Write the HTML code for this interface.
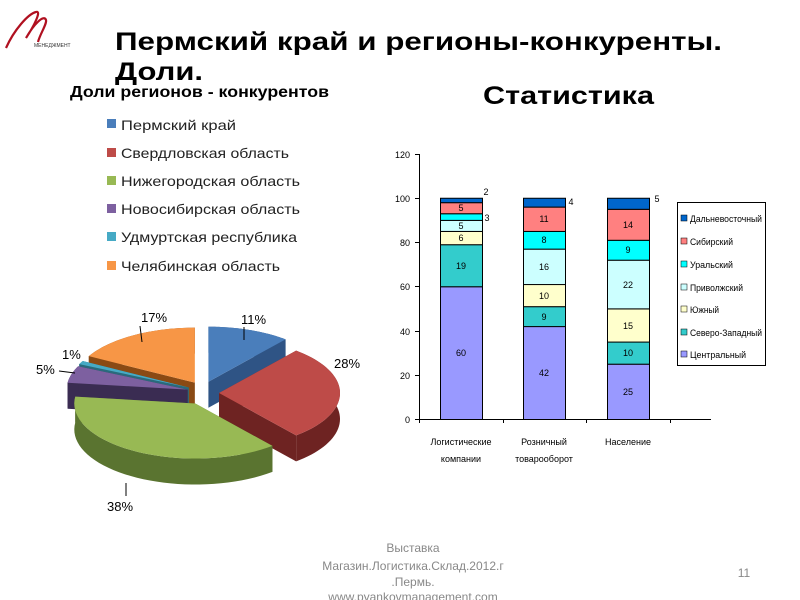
<!DOCTYPE html>
<html><head><meta charset="utf-8"><style>
body{margin:0;width:800px;height:600px;background:#fff;overflow:hidden;position:relative;font-family:"Liberation Sans","DejaVu Sans",sans-serif}
</style></head><body>
<svg width="800" height="600" viewBox="0 0 800 600" style="position:absolute;left:0;top:0" font-family="Liberation Sans, DejaVu Sans, sans-serif">
<!-- logo -->
<path d="M6,48 C14,30 28,14 36,12 C42,10 34,26 26,38 C34,24 44,14 46,20 C47,24 40,34 38,42" fill="none" stroke="#b01020" stroke-width="2.2"/>
<text x="34" y="47" font-size="5" fill="#333">МЕНЕДЖМЕНТ</text>
<text x="115" y="50" font-size="25" font-weight="bold" fill="#000" textLength="607" lengthAdjust="spacingAndGlyphs">Пермский край и регионы-конкуренты.</text>
<text x="115" y="80" font-size="25" font-weight="bold" fill="#000" textLength="88" lengthAdjust="spacingAndGlyphs">Доли.</text>
<text x="70" y="97" font-size="15.5" font-weight="bold" fill="#000" textLength="259" lengthAdjust="spacingAndGlyphs">Доли регионов - конкурентов</text>
<text x="483" y="104" font-size="25" font-weight="bold" fill="#000" textLength="171" lengthAdjust="spacingAndGlyphs">Статистика</text>
<g font-size="14" fill="#222">
<rect x="107" y="119" width="9" height="9" fill="#4a7ebb"/><text x="121" y="130" textLength="115" lengthAdjust="spacingAndGlyphs">Пермский край</text>
<rect x="107" y="148" width="9" height="9" fill="#be4b48"/><text x="121" y="158" textLength="168" lengthAdjust="spacingAndGlyphs">Свердловская область</text>
<rect x="107" y="176" width="9" height="9" fill="#98b954"/><text x="121" y="186" textLength="179" lengthAdjust="spacingAndGlyphs">Нижегородская область</text>
<rect x="107" y="204" width="9" height="9" fill="#7d60a0"/><text x="121" y="214" textLength="179" lengthAdjust="spacingAndGlyphs">Новосибирская область</text>
<rect x="107" y="232" width="9" height="9" fill="#46aac5"/><text x="121" y="242" textLength="176" lengthAdjust="spacingAndGlyphs">Удмуртская республика</text>
<rect x="107" y="261" width="9" height="9" fill="#f79646"/><text x="121" y="271" textLength="159" lengthAdjust="spacingAndGlyphs">Челябинская область</text>
</g>
<g id="pie"></g>
<g font-size="13" fill="#000">
<text x="241" y="324">11%</text><text x="334" y="368">28%</text><text x="107" y="511">38%</text>
<text x="36" y="374">5%</text><text x="62" y="359">1%</text><text x="141" y="322">17%</text>
</g>
<g stroke="#000" stroke-width="1"><line x1="59" y1="371" x2="75" y2="373"/><line x1="126" y1="483" x2="126" y2="496"/><line x1="142" y1="342" x2="140" y2="326"/><line x1="244" y1="340" x2="244" y2="327"/></g>
<!-- bar chart -->
<g id="bars"></g>
<g stroke="#000" stroke-width="1" fill="none">
<line x1="419.5" y1="154" x2="419.5" y2="419"/>
<line x1="419" y1="419.5" x2="711" y2="419.5"/>
<line x1="415" y1="154.5" x2="419" y2="154.5"/><line x1="415" y1="198.5" x2="419" y2="198.5"/><line x1="415" y1="242.5" x2="419" y2="242.5"/><line x1="415" y1="286.5" x2="419" y2="286.5"/><line x1="415" y1="331.5" x2="419" y2="331.5"/><line x1="415" y1="375.5" x2="419" y2="375.5"/><line x1="415" y1="419.5" x2="419" y2="419.5"/>
<line x1="503.5" y1="419" x2="503.5" y2="423"/><line x1="586.5" y1="419" x2="586.5" y2="423"/><line x1="670.5" y1="419" x2="670.5" y2="423"/><line x1="419.5" y1="419" x2="419.5" y2="423"/>
<rect x="677.5" y="202.5" width="88" height="163"/>
</g>
<g font-size="9" fill="#000" text-anchor="end">
<text x="410" y="158">120</text><text x="410" y="202">100</text><text x="410" y="246">80</text><text x="410" y="290">60</text><text x="410" y="335">40</text><text x="410" y="379">20</text><text x="410" y="423">0</text>
</g>
<g font-size="9" fill="#000" text-anchor="middle">
<text x="461" y="356">60</text><text x="461" y="269">19</text><text x="461" y="241">6</text><text x="461" y="229">5</text><text x="461" y="211">5</text>
<text x="544" y="376">42</text><text x="544" y="320">9</text><text x="544" y="299">10</text><text x="544" y="270">16</text><text x="544" y="243">8</text><text x="544" y="222">11</text>
<text x="628" y="395">25</text><text x="628" y="356">10</text><text x="628" y="329">15</text><text x="628" y="288">22</text><text x="628" y="253">9</text><text x="628" y="228">14</text>
<text x="486" y="195">2</text><text x="487" y="221">3</text><text x="571" y="205">4</text><text x="657" y="202">5</text>
<text x="461" y="445">Логистические</text><text x="461" y="462">компании</text>
<text x="544" y="445">Розничный</text><text x="544" y="462">товарооборот</text>
<text x="628" y="445">Население</text>
</g>
<g font-size="9" fill="#000">
<rect x="681" y="215" width="6" height="6" fill="#0066cc" stroke="#000" stroke-width=".5"/><text x="690" y="222" textLength="72" lengthAdjust="spacingAndGlyphs">Дальневосточный</text>
<rect x="681" y="238" width="6" height="6" fill="#ff8080" stroke="#000" stroke-width=".5"/><text x="690" y="245" textLength="43" lengthAdjust="spacingAndGlyphs">Сибирский</text>
<rect x="681" y="261" width="6" height="6" fill="#00ffff" stroke="#000" stroke-width=".5"/><text x="690" y="268" textLength="43" lengthAdjust="spacingAndGlyphs">Уральский</text>
<rect x="681" y="284" width="6" height="6" fill="#ccffff" stroke="#000" stroke-width=".5"/><text x="690" y="291" textLength="53" lengthAdjust="spacingAndGlyphs">Приволжский</text>
<rect x="681" y="306" width="6" height="6" fill="#ffffcc" stroke="#000" stroke-width=".5"/><text x="690" y="313" textLength="29" lengthAdjust="spacingAndGlyphs">Южный</text>
<rect x="681" y="329" width="6" height="6" fill="#33cccc" stroke="#000" stroke-width=".5"/><text x="690" y="336" textLength="72" lengthAdjust="spacingAndGlyphs">Северо-Западный</text>
<rect x="681" y="351" width="6" height="6" fill="#9999ff" stroke="#000" stroke-width=".5"/><text x="690" y="358" textLength="56" lengthAdjust="spacingAndGlyphs">Центральный</text>
</g>
<g font-size="12" fill="#888" text-anchor="middle">
<text x="413" y="552">Выставка</text><text x="413" y="570">Магазин.Логистика.Склад.2012.г</text><text x="413" y="586">.Пермь.</text><text x="413" y="601">www.pyankovmanagement.com</text>
<text x="744" y="577">11</text>
</g>
</svg>
<script>
(function(){
var NS="http://www.w3.org/2000/svg";
function el(p,t,a){var e=document.createElementNS(NS,t);for(var k in a)e.setAttribute(k,a[k]);p.appendChild(e);return e;}
var bars=document.getElementById('bars');
var cols=["#9999ff","#33cccc","#ffffcc","#ccffff","#00ffff","#ff8080","#0066cc"];
var data=[[60,19,6,5,3,5,2],[42,9,10,16,8,11,4],[25,10,15,22,9,14,5]];
var xs=[440,523,607];
data.forEach(function(d,i){var c=0;d.forEach(function(v,j){var y0=419-c*2.2125,y1=419-(c+v)*2.2125;
el(bars,'rect',{x:xs[i]+.5,y:y1+.5,width:42,height:y0-y1,fill:cols[j],stroke:'#000','stroke-width':1});c+=v;});});
var pie=document.getElementById('pie');
var cx=203,cy=393,rx=121,ry=55,d=26,e=16;
var sl=[[11,"#4a7ebb","#2f5485"],[28,"#be4b48","#6e2322"],[38,"#98b954","#5a7430"],[5,"#7d60a0","#3a2c52"],[1,"#46aac5","#2a6a7c"],[17,"#f79646","#8a4a14"]];
var a=0,items=[];
sl.forEach(function(s){var a0=a*3.6*Math.PI/180,a1=(a+s[0])*3.6*Math.PI/180;a+=s[0];
var m=(a0+a1)/2,ox=e*Math.sin(m),oy=-e*Math.cos(m)*0.75;items.push({a0:a0,a1:a1,ox:ox,oy:oy,c:s[1],dk:s[2]});});
function P(t,it,dz){return [cx+it.ox+rx*Math.sin(t),cy+it.oy-ry*Math.cos(t)+dz];}
function arcPts(it,dz,rev){var pts=[],n=40;for(var k=0;k<=n;k++){var t=it.a0+(it.a1-it.a0)*k/n;pts.push(P(t,it,dz));}if(rev)pts.reverse();return pts;}
var sides=items.slice().sort(function(p,q){return Math.cos((p.a0+p.a1)/2)-Math.cos((q.a0+q.a1)/2);}).reverse();
sides.forEach(function(it){
 var c=[cx+it.ox,cy+it.oy];
 [it.a0,it.a1].forEach(function(t){var p=P(t,it,0);el(pie,'polygon',{points:[c,p,[p[0],p[1]+d],[c[0],c[1]+d]].map(function(q){return q.join(',')}).join(' '),fill:it.dk});});
 var pts=arcPts(it,0,false).concat(arcPts(it,d,true));
 el(pie,'polygon',{points:pts.map(function(q){return q.join(',')}).join(' '),fill:it.dk});
});
items.forEach(function(it){var c=[cx+it.ox,cy+it.oy];var pts=[c].concat(arcPts(it,0,false));
el(pie,'polygon',{points:pts.map(function(q){return q.join(',')}).join(' '),fill:it.c});});
})();
</script>
</body></html>
